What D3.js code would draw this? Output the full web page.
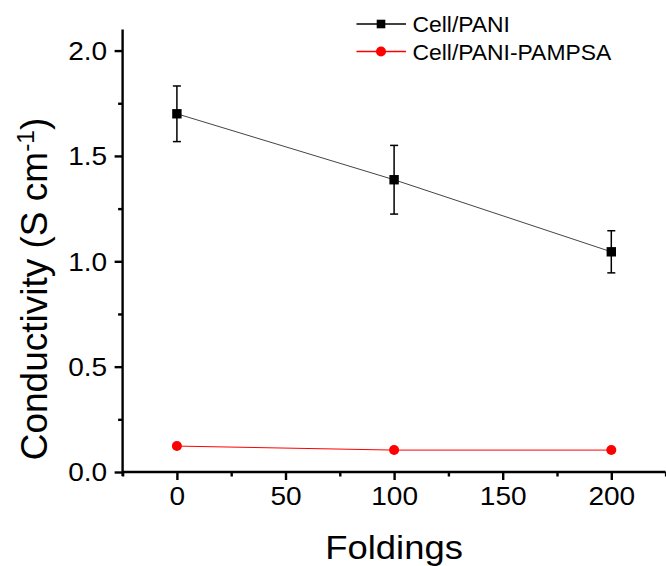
<!DOCTYPE html>
<html>
<head>
<meta charset="utf-8">
<script src="https://cdn.jsdelivr.net/npm/d3@7"></script>
<style>
  html, body { margin: 0; padding: 0; background: #fff; }
  svg { display: block; font-family: "Liberation Sans", Arial, sans-serif; }
</style>
</head>
<body>
<svg id="chart" width="666" height="566"></svg>
<script>
// data
const foldings = [0, 100, 200]
const pani = [1.70, 1.387, 1.045]
const paniErr = [0.132, 0.163, 0.10]
const pampsa = [0.123, 0.104, 0.104]

const xMajor = [0, 50, 100, 150, 200]
const xMinor = [-25, 25, 75, 125, 175, 225]
const yMajor = [0, 0.5, 1.0, 1.5, 2.0]
const yMinor = [0.25, 0.75, 1.25, 1.75]

const svg = d3.select('#chart')

const x = d3.scaleLinear().domain([-25, 225]).range([122.6, 665.6])
const y = d3.scaleLinear().domain([0, 2.1]).range([472, 29.5])

// the source picture is a bit stretched sideways, so the text is too
const stretch = 1.1

// axes
const xAxis = svg.append('g').attr('transform', 'translate(0,472)')
xAxis.call(d3.axisBottom(x).tickValues(xMajor).tickSize(8).tickPadding(7).tickFormat(d3.format('d')))
xAxis.append('g').call(d3.axisBottom(x).tickValues(xMinor).tickSize(4.5).tickFormat(''))
  .select('.domain').remove()

const yAxis = svg.append('g').attr('transform', 'translate(122.6,0)')
yAxis.call(d3.axisLeft(y).tickValues(yMajor).tickSize(8).tickPadding(6).tickFormat(d3.format('.1f')))
yAxis.append('g').call(d3.axisLeft(y).tickValues(yMinor).tickSize(4.5).tickFormat(''))
  .select('.domain').remove()

xAxis.select('.domain').attr('d', `M${x(-25)},0H${x(225)}`)
yAxis.select('.domain').attr('d', `M0,${y(0) + 4}V${y(2.1)}`)
svg.selectAll('.domain').attr('stroke', '#000').attr('stroke-width', 2.4)
svg.selectAll('.tick line').attr('stroke', '#000').attr('stroke-width', 2.4)
svg.selectAll('.tick text').attr('fill', '#000').style('font-size', '25.5px')
  .style('font-family', '"Liberation Sans", Arial, sans-serif')
  .attr('transform', `scale(${stretch},1)`)
yAxis.selectAll('.tick text').attr('dy', '0.35em')

// axis titles
svg.append('text')
  .attr('transform', `translate(${x(100)},559) scale(1.12,1)`)
  .attr('text-anchor', 'middle')
  .style('font-size', '32.5px')
  .text('Foldings')

const yt = svg.append('text')
  .attr('transform', 'translate(47,289) rotate(-90)')
  .attr('text-anchor', 'middle')
  .style('font-size', '37px')
yt.append('tspan').text('Conductivity (S cm')
yt.append('tspan').attr('dy', -13).style('font-size', '24.5px').text('-1')
yt.append('tspan').attr('dy', 13).text(')')

// Cell/PANI series
const line = d3.line().x((d, i) => x(foldings[i])).y(d => y(d))
svg.append('path').datum(pani)
  .attr('d', line).attr('fill', 'none').attr('stroke', '#444').attr('stroke-width', 1)

const err = svg.append('g').attr('stroke', '#000').attr('stroke-width', 1.5)
pani.forEach((v, i) => {
  const cx = x(foldings[i])
  const hi = y(v + paniErr[i]), lo = y(v - paniErr[i])
  err.append('line').attr('x1', cx).attr('x2', cx).attr('y1', hi).attr('y2', lo)
  err.append('line').attr('x1', cx - 4).attr('x2', cx + 4).attr('y1', hi).attr('y2', hi)
  err.append('line').attr('x1', cx - 4).attr('x2', cx + 4).attr('y1', lo).attr('y2', lo)
})

svg.append('g').selectAll('rect').data(pani).join('rect')
  .attr('x', (d, i) => x(foldings[i]) - 4.7)
  .attr('y', d => y(d) - 4.7)
  .attr('width', 9.4).attr('height', 9.4)
  .attr('fill', '#000')

// Cell/PANI-PAMPSA series
svg.append('path').datum(pampsa)
  .attr('d', line).attr('fill', 'none').attr('stroke', '#f00').attr('stroke-width', 1)
svg.append('g').selectAll('circle').data(pampsa).join('circle')
  .attr('cx', (d, i) => x(foldings[i]))
  .attr('cy', d => y(d))
  .attr('r', 5)
  .attr('fill', '#f00')

// legend
const legend = svg.append('g')
const items = [
  {name: 'Cell/PANI', color: '#000', shape: 'square'},
  {name: 'Cell/PANI-PAMPSA', color: '#f00', shape: 'circle'},
]
items.forEach((it, i) => {
  const ly = 24 + i * 27.5
  legend.append('line').attr('x1', 356.5).attr('x2', 406).attr('y1', ly).attr('y2', ly)
    .attr('stroke', it.color).attr('stroke-width', 1.3)
  if (it.shape === 'square') {
    legend.append('rect').attr('x', 381 - 4.3).attr('y', ly - 4.3).attr('width', 8.6).attr('height', 8.6).attr('fill', it.color)
  } else {
    legend.append('circle').attr('cx', 381).attr('cy', ly).attr('r', 5).attr('fill', it.color)
  }
  legend.append('text').attr('transform', `translate(412.5,${ly + 8}) scale(1.04,1)`)
    .style('font-size', '22px').text(it.name)
})
</script>
</body>
</html>
